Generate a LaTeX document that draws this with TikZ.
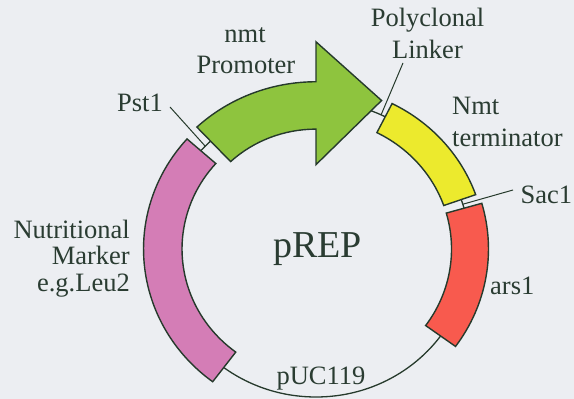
\documentclass[tikz,border=0pt]{standalone}
\usepackage{fontspec}
\setmainfont{Liberation Serif}
\definecolor{bg}{RGB}{236,238,242}
\definecolor{ink}{RGB}{38,58,44}
\definecolor{txt}{RGB}{42,60,50}
\definecolor{promo}{RGB}{142,196,62}
\definecolor{marker}{RGB}{212,125,182}
\definecolor{term}{RGB}{236,234,45}
\definecolor{ars}{RGB}{248,90,78}
\begin{document}
\begin{tikzpicture}[x=1pt,y=1pt,
  seg/.style={draw=ink,line width=1.4pt,line join=miter},
  lab/.style={text=txt,font=\fontsize{26.5}{28}\selectfont,inner sep=0pt},
  leader/.style={draw=ink,line width=1pt}]
\fill[bg] (0,0) rectangle (574,399);
\useasboundingbox (0,0) rectangle (574,399);
\begin{scope}[shift={(316,150)},xscale=154,yscale=148]
  \draw[ink,line width=1.3pt] (0,0) circle[radius=1];
  % nutritional marker
  \path[seg,fill=marker] (138.4:1.12) arc[start angle=138.4,end angle=233.2,radius=1.12]
     -- (233.2:0.87) arc[start angle=233.2,end angle=138.4,radius=0.87] -- cycle;
  % nmt promoter arrow
  \path[seg,fill=promo] (133.2:1.13) arc[start angle=133.2,end angle=90,radius=1.13]
     -- (90:1.40) -- (67:1.09) -- (90:0.57) -- (90:0.81)
     arc[start angle=90,end angle=133.2,radius=0.81] -- cycle;
  % nmt terminator
  \path[seg,fill=term] (63.3:1.10) arc[start angle=63.3,end angle=19.5,radius=1.10]
     -- (19.5:0.88) arc[start angle=19.5,end angle=63.3,radius=0.88] -- cycle;
  % ars1
  \path[seg,fill=ars] (16:1.12) arc[start angle=16,end angle=-36,radius=1.12]
     -- (-36:0.88) arc[start angle=-36,end angle=16,radius=0.88] -- cycle;
  \coordinate (pstsite) at (136:1);
  \coordinate (linksite) at (65:1);
  \coordinate (sacsite) at (17.6:1);
\end{scope}
% labels
\node[lab,anchor=base] (nmt) at (245,356) {nmt};
\node[lab,anchor=base] (promoter) at (246,325) {Promoter};
\node[lab,anchor=base east] (pst) at (163,287) {Pst1};
\node[lab,anchor=base] (poly) at (427.5,372.3) {Polyclonal};
\node[lab,anchor=base] (linker) at (427.5,340.7) {Linker};
\node[lab,anchor=base west] (nmtt) at (452,284) {Nmt};
\node[lab,anchor=base west] (term) at (452,252.3) {terminator};
\node[lab,anchor=base west] (sac) at (520.5,195.7) {Sac1};
\node[lab,anchor=base west] (arslab) at (490,104) {ars1};
\node[lab,anchor=base] (puc) at (321,14.7) {pUC119};
\node[lab,anchor=base east] (nut) at (130,160.7) {Nutritional};
\node[lab,anchor=base east] (mark) at (130,134) {Marker};
\node[lab,anchor=base east] (leu) at (130,107.3) {e.g.Leu2};
\node[text=txt,font=\fontsize{38}{40}\selectfont,inner sep=0pt,anchor=base] (prep) at (317.5,141) {pREP};
% leader lines
\coordinate (pstA) at (170,292);
\coordinate (linkA) at (403,336);
\coordinate (sacA) at (513,209);
\draw[leader] (pstA) -- (pstsite);
\draw[leader] (linkA) -- (linksite);
\draw[leader] (sacA) -- (sacsite);
\end{tikzpicture}
\end{document}
